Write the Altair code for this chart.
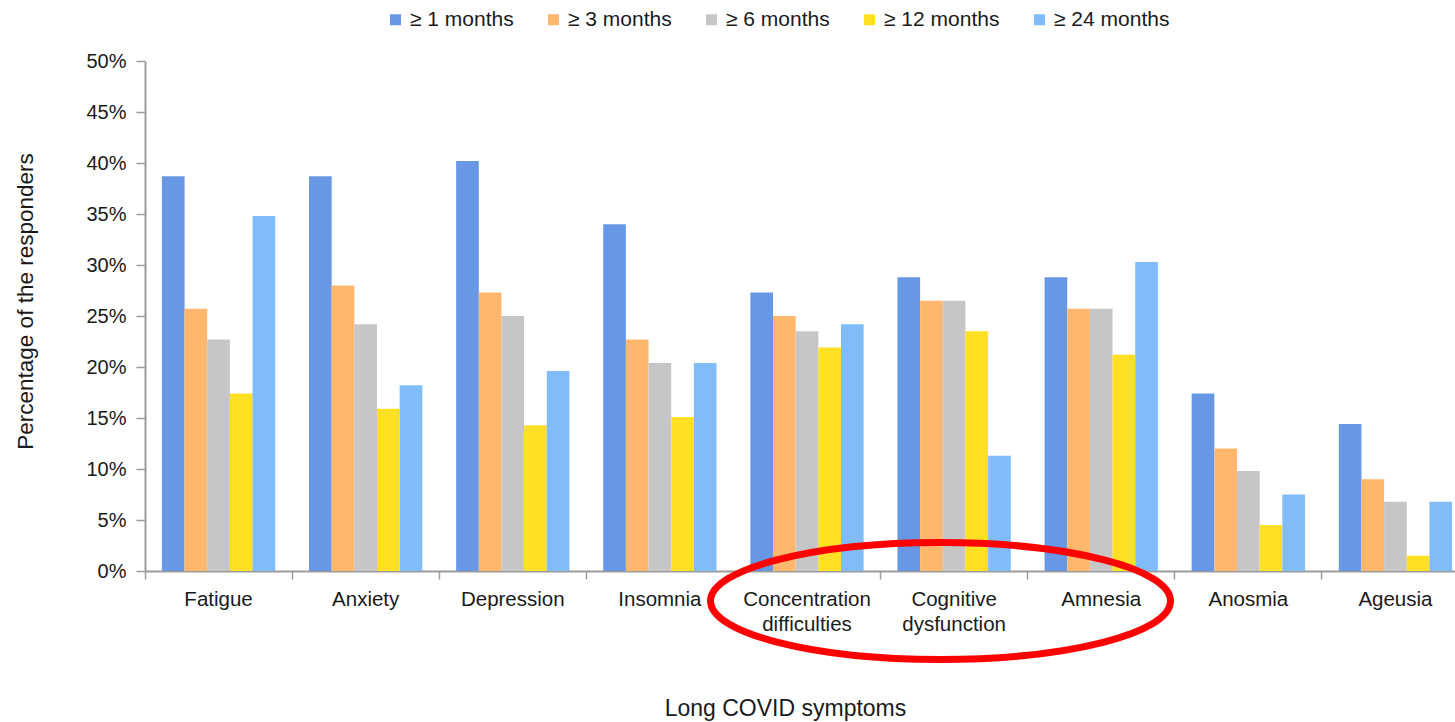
import altair as alt
import pandas as pd

# Long COVID symptoms, share of responders (%) by symptom duration
symptoms = [
    "Fatigue", "Anxiety", "Depression", "Insomnia",
    "Concentration difficulties", "Cognitive dysfunction",
    "Amnesia", "Anosmia", "Ageusia",
]
durations = ["≥ 1 months", "≥ 3 months", "≥ 6 months", "≥ 12 months", "≥ 24 months"]

pct_1m = [38.7, 38.7, 40.2, 34.0, 27.3, 28.8, 28.8, 17.4, 14.4]
pct_3m = [25.7, 28.0, 27.3, 22.7, 25.0, 26.5, 25.7, 12.0, 9.0]
pct_6m = [22.7, 24.2, 25.0, 20.4, 23.5, 26.5, 25.7, 9.8, 6.8]
pct_12m = [17.4, 15.9, 14.3, 15.1, 21.9, 23.5, 21.2, 4.5, 1.5]
pct_24m = [34.8, 18.2, 19.6, 20.4, 24.2, 11.3, 30.3, 7.5, 6.8]

colors = ["#6797e5", "#ffb76e", "#c6c6c6", "#ffe024", "#80bdf8"]

rows = []
for dur, vals in zip(durations, [pct_1m, pct_3m, pct_6m, pct_12m, pct_24m]):
    for sym, v in zip(symptoms, vals):
        rows.append({"symptom": sym, "duration": dur, "pct": v})
df = pd.DataFrame(rows)

FONT = "Liberation Sans"
TEXT = "#1a1a1a"
AXIS = "#9c9c9c"

bars = alt.Chart(df).mark_bar(strokeWidth=0).encode(
    x=alt.X(
        "symptom:N",
        sort=symptoms,
        scale=alt.Scale(range=[0, 1324], paddingInner=0, paddingOuter=0),
        axis=alt.Axis(
            title="Long COVID symptoms",
            titleX=640,
            titleY=137,
            titleBaseline="middle",
            titleFont=FONT,
            titleFontSize=23,
            titleFontWeight="normal",
            titleColor=TEXT,
            labelAngle=0,
            bandPosition=0,
            labelExpr="split(datum.label, ' ')",
            labelLineHeight=25,
            labelFont=FONT,
            labelFontSize=20.5,
            labelColor=TEXT,
            labelPadding=10,
            labelOverlap=False,
            labelBound=False,
            domainColor=AXIS,
            domainWidth=2,
            tickColor=AXIS,
            tickWidth=1.5,
            tickSize=8,
        ),
    ),
    xOffset=alt.XOffset(
        "duration:N",
        sort=durations,
        scale=alt.Scale(paddingInner=0, paddingOuter=0.746),
    ),
    y=alt.Y(
        "pct:Q",
        scale=alt.Scale(domain=[0, 50], nice=False),
        axis=alt.Axis(
            title="Percentage of the responders",
            titleX=-120,
            titleY=240,
            titleBaseline="middle",
            titleFont=FONT,
            titleFontSize=22.5,
            titleFontWeight="normal",
            titleColor=TEXT,
            values=list(range(0, 55, 5)),
            labelExpr="datum.value + '%'",
            labelFont=FONT,
            labelFontSize=20,
            labelColor=TEXT,
            labelPadding=10,
            grid=False,
            domainColor=AXIS,
            domainWidth=2,
            tickColor=AXIS,
            tickWidth=1.5,
            tickSize=9,
        ),
    ),
    color=alt.Color(
        "duration:N",
        sort=durations,
        scale=alt.Scale(domain=durations, range=colors),
        legend=alt.Legend(
            title=None,
            orient="none",
            direction="horizontal",
            legendX=240,
            legendY=-52,
            symbolType="square",
            symbolSize=121,
            symbolStrokeWidth=0,
            labelFont=FONT,
            labelFontSize=21,
            labelColor=TEXT,
            labelOffset=4,
            columnPadding=29,
        ),
    ),
)

# Red ellipse highlighting the cognitive symptom group
ELLIPSE = "M -1 0 A 1 0.254 0 1 1 1 0 A 1 0.254 0 1 1 -1 0 Z"
highlight = alt.Chart(pd.DataFrame({"k": [0]})).mark_point(
    shape=ELLIPSE,
    size=211600,
    filled=False,
    stroke="#ff0000",
    strokeWidth=7,
    opacity=1,
).encode(x=alt.value(795.5), y=alt.value(540))

chart = alt.layer(bars, highlight).properties(
    width=1310,
    height=510,
    padding={"left": 145, "top": 61, "right": 0, "bottom": 151},
    autosize=alt.AutoSizeParams(type="none"),
    background="white",
).configure_view(stroke=None)

chart.save("out.html", embed_options={"renderer": "svg", "actions": False})
